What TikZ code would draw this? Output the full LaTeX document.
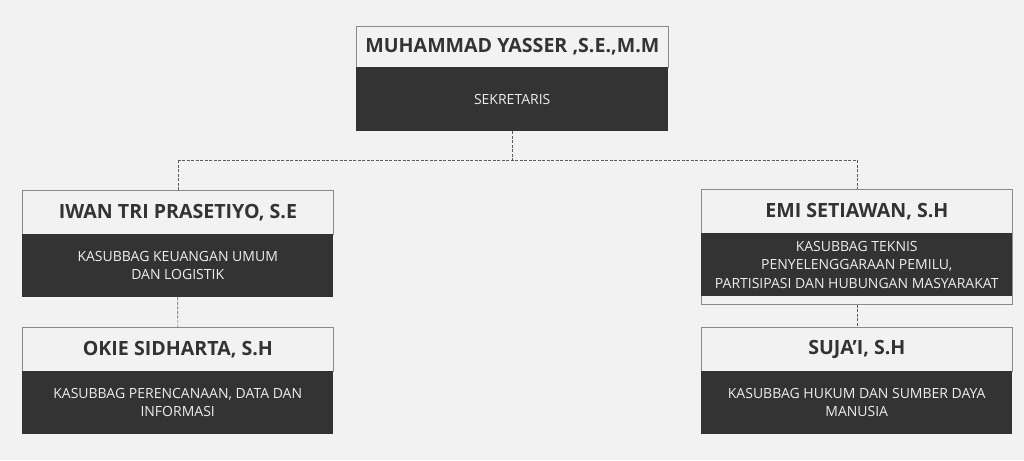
\documentclass[tikz,border=0pt]{standalone}
\usepackage{fontspec}
\setmainfont{Open Sans}
\definecolor{bg}{HTML}{F2F2F2}
\definecolor{dark}{HTML}{333333}
\definecolor{edge}{HTML}{8A8A8A}
\definecolor{lite}{HTML}{EDEDED}
\begin{document}
\begin{tikzpicture}[x=1pt,y=-1pt,
  head/.style={draw=edge, line width=0.8pt, fill=bg, anchor=north west, inner sep=0pt,
    minimum width=#1, minimum height=44pt, text=dark,
    font=\bfseries\fontsize{19.6}{22}\selectfont},
  head/.default=311pt,
  body/.style={fill=dark, anchor=north west, inner sep=0pt, minimum width=#1,
    minimum height=63pt, text=lite, align=center,
    font=\fontsize{14}{18.5}\selectfont},
  body/.default=311pt,
  link/.style={draw=dark!80, dashed, dash pattern=on 3pt off 1.5pt, line width=0.7pt}]
\useasboundingbox[fill=bg] (0,0) rectangle (1024,460);
% top
\node[head=312pt, minimum height=41pt] (th) at (356,26) {MUHAMMAD YASSER ,S.E.,M.M};
\node[body=312pt, minimum height=64pt] (tb) at (356,67) {SEKRETARIS};
% left 1
\node[head] (l1h) at (22,190) {IWAN TRI PRASETIYO, S.E};
\node[body] (l1b) at (22,234) {KASUBBAG KEUANGAN UMUM\\DAN LOGISTIK};
% left 2
\node[head] (l2h) at (22,327) {OKIE SIDHARTA, S.H};
\node[body] (l2b) at (22,371) {KASUBBAG PERENCANAAN, DATA DAN\\INFORMASI};
% right 1
\node[draw=edge, line width=0.8pt, fill=bg, anchor=north west, minimum width=311pt, minimum height=115pt, inner sep=0pt] (r1o) at (701,189) {};
\node[head, draw=none, fill=none] (r1h) at (701,189) {EMI SETIAWAN, S.H};
\draw[edge, line width=0.8pt] (701,233) -- (1012,233);
\node[body, minimum height=63pt] (r1b) at (701,233) {KASUBBAG TEKNIS\\PENYELENGGARAAN PEMILU,\\PARTISIPASI DAN HUBUNGAN MASYARAKAT};
% right 2
\node[head] (r2h) at (701,327) {SUJA'I, S.H};
\node[body] (r2b) at (701,371) {KASUBBAG HUKUM DAN SUMBER DAYA\\MANUSIA};
% connectors
\coordinate (mid) at (tb.south |- 0,160);
\coordinate (lj) at (l1h.north |- 0,160);
\coordinate (rj) at (r1o.north |- 0,160);
\draw[link] (tb.south) -- (mid);
\draw[link] (lj) -- (rj);
\draw[link] (lj) -- (l1h.north);
\draw[link] (rj) -- (r1o.north);
\draw[link] (l1b.south) -- (l2h.north);
\draw[link] (r1o.south) -- (r2h.north);
\end{tikzpicture}
\end{document}
